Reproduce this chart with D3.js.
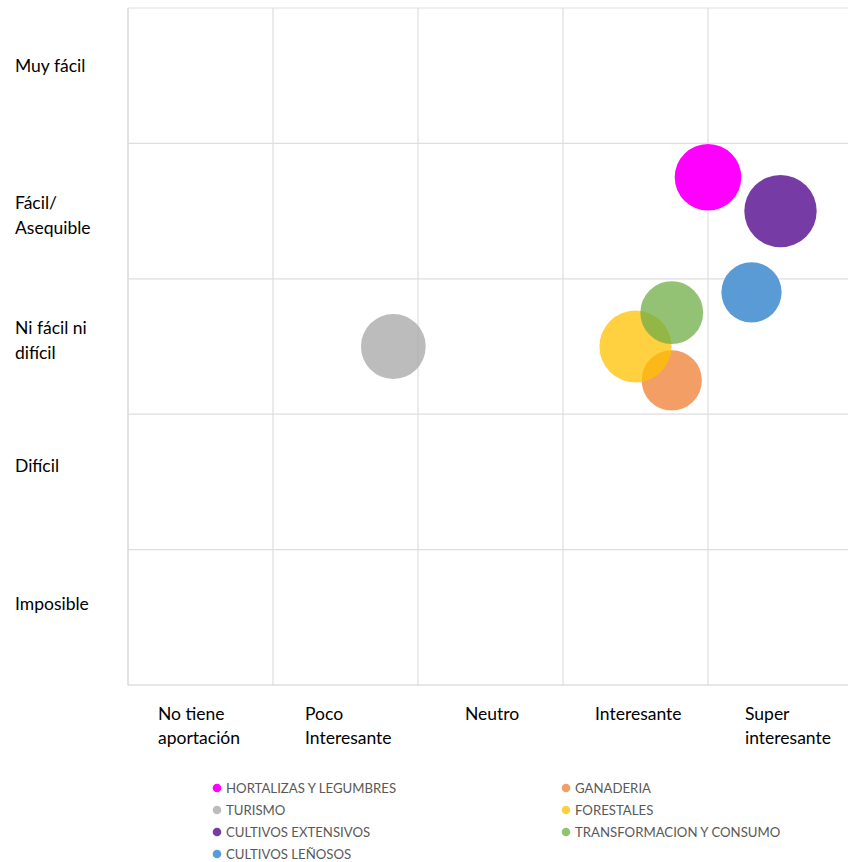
<!DOCTYPE html>
<html>
<head>
<meta charset="utf-8">
<script src="https://cdn.jsdelivr.net/npm/d3@7"></script>
<style>
  html, body { margin: 0; padding: 0; background: #fff; }
  svg { display: block; font-family: Lato, "Open Sans", sans-serif; }
</style>
</head>
<body>
<svg id="chart" width="848" height="862"></svg>
<script>
// ---- data ----
const seriesNames = ["HORTALIZAS Y LEGUMBRES", "GANADERIA", "TURISMO", "FORESTALES",
                     "CULTIVOS EXTENSIVOS", "TRANSFORMACION Y CONSUMO", "CULTIVOS LEÑOSOS"];
const xValues = [4.0, 3.75, 1.83, 3.5, 4.5, 3.75, 4.3];
const yValues = [3.75, 2.25, 2.5, 2.5, 3.5, 2.75, 2.9];
const sizeValues = [11, 9, 10.4, 12.9, 13, 9.8, 9];
const xCategories = [["No tiene", "aportación"], ["Poco", "Interesante"], ["Neutro"], ["Interesante"], ["Super", "interesante"]];
const yCategories = [["Imposible"], ["Difícil"], ["Ni fácil ni", "difícil"], ["Fácil/", "Asequible"], ["Muy fácil"]];

// ---- styles ----
const colors = ["#FF00FF", "#ED7D31", "#A5A5A5", "#FFC000", "#7030A0", "#70AD47", "#5B9BD5"];
const opacities = [1, 0.75, 0.75, 0.75, 0.95, 0.75, 1];

const svg = d3.select("#chart");
const plot = { left: 128, right: 853, top: 8, bottom: 685 };

const x = d3.scaleLinear().domain([0, 5]).range([plot.left, plot.right]);
const y = d3.scaleLinear().domain([0, 5]).range([plot.bottom, plot.top]);
const r = d3.scaleSqrt().domain([0, 13]).range([0, 36.2]);

// gridlines
const grid = svg.append("g");
grid.selectAll("line.v").data(d3.range(0, 6)).join("line")
  .attr("x1", d => x(d)).attr("x2", d => x(d))
  .attr("y1", y(5)).attr("y2", y(0))
  .attr("stroke", d => d === 0 ? "#cfcfcf" : "#dedede").attr("stroke-width", 1.2);
grid.selectAll("line.h").data(d3.range(0, 6)).join("line")
  .attr("y1", d => y(d)).attr("y2", d => y(d))
  .attr("x1", x(0)).attr("x2", x(5))
  .attr("stroke", d => d === 0 ? "#cfcfcf" : "#dedede").attr("stroke-width", 1.2);

// bubbles
const data = seriesNames.map((name, i) => ({ name, x: xValues[i], y: yValues[i], s: sizeValues[i], c: colors[i], o: opacities[i] }));
svg.append("g").selectAll("circle").data(data).join("circle")
  .attr("cx", d => x(d.x)).attr("cy", d => y(d.y)).attr("r", d => r(d.s))
  .attr("fill", d => d.c).attr("fill-opacity", d => d.o);

// x category labels (text boxes, left aligned)
const xOffsets = [30, 32, 47, 32, 37];
const xl = svg.append("g").attr("font-size", 17.5).attr("fill", "#000");
xCategories.forEach((lines, i) => {
  const t = xl.append("text").attr("x", x(i) + xOffsets[i]).attr("y", 720);
  lines.forEach((ln, j) => t.append("tspan").attr("x", x(i) + xOffsets[i]).attr("dy", j === 0 ? 0 : 24).text(ln));
});

// y category labels
const yShift = [-13, -16, -6, 4, -10];
const yl = svg.append("g").attr("font-size", 17.5).attr("fill", "#000");
yCategories.forEach((lines, i) => {
  const n = lines.length;
  const cy = y(i + 0.5) + yShift[i];
  const t = yl.append("text").attr("x", 15).attr("y", cy - (n - 1) * 12.5 + 6);
  lines.forEach((ln, j) => t.append("tspan").attr("x", 15).attr("dy", j === 0 ? 0 : 25).text(ln));
});

// legend (row-major, two columns)
const legend = svg.append("g").attr("font-size", 13.2).attr("fill", "#595959");
const colX = [217, 566];
data.forEach((d, i) => {
  const col = i % 2, row = Math.floor(i / 2);
  const ly = 788 + row * 22;
  legend.append("circle").attr("cx", colX[col]).attr("cy", ly).attr("r", 4.3)
    .attr("fill", d.c).attr("fill-opacity", d.o);
  legend.append("text").attr("x", colX[col] + 9).attr("y", ly + 4.7).text(d.name);
});
</script>
</body>
</html>
